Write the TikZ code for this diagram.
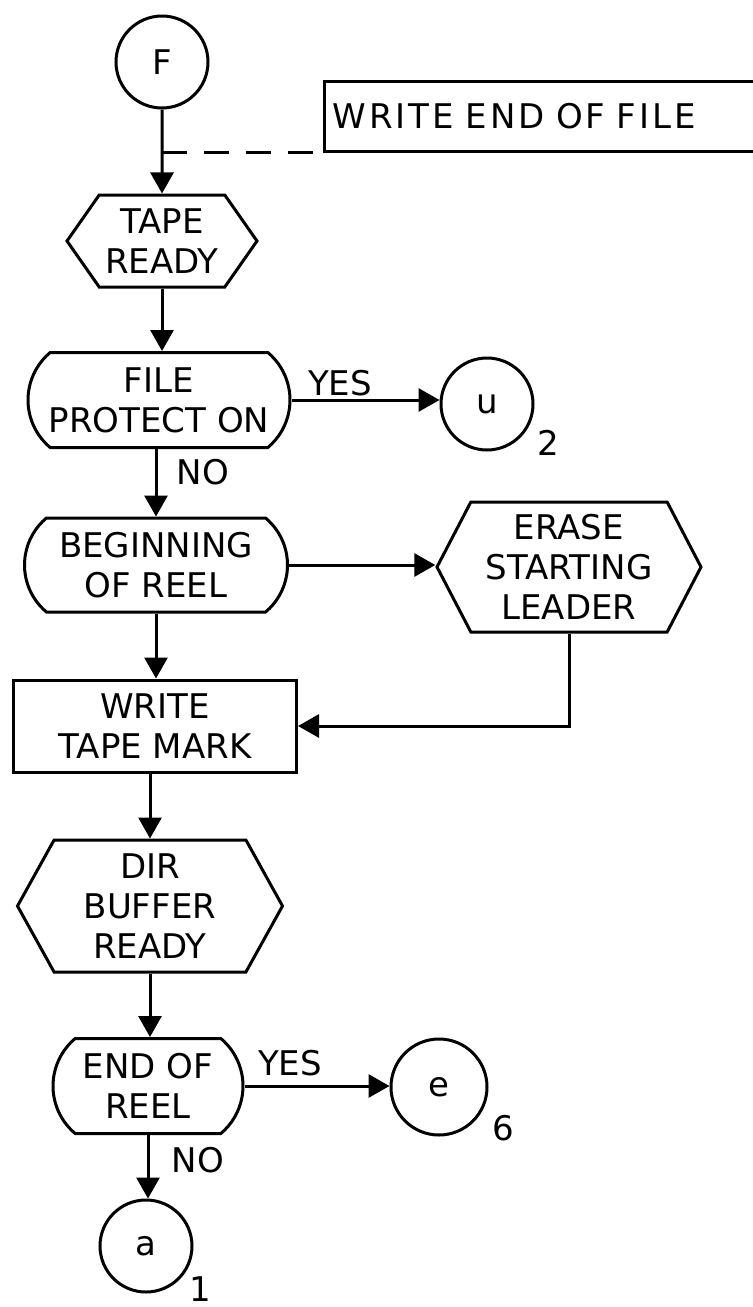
\documentclass[tikz,border=0pt]{standalone}
\usepackage{fontspec}
\setmainfont{DejaVu Sans}
\usetikzlibrary{arrows.meta, shapes.misc, shapes.symbols}

\begin{document}
\begin{tikzpicture}[x=0.5pt, y=-0.5pt, line width=1.5pt,
      font=\fontsize{17}{20}\selectfont,
      conn/.style={circle, draw, minimum size=46pt, inner sep=0pt},
      hexa/.style={signal, signal to=east and west, draw, align=center, inner sep=0pt},
      dec/.style={rounded rectangle, rounded rectangle arc length=100, draw,
                  align=center, inner sep=0pt},
      proc/.style={rectangle, draw, align=center, inner sep=0pt},
      arr/.style={-{Triangle[length=10.5pt, width=11.5pt]}}]
    \useasboundingbox (0,0) rectangle (752,1307);
    \node[conn] (f) at (162,62) {F};
    \node[proc, anchor=west, minimum height=35pt, text width=210pt, inner xsep=4pt,
          align=left] (eof) at (323,116) {\addfontfeatures{LetterSpace=9}WRITE END OF FILE};
    \node[hexa, minimum width=95pt, minimum height=46pt, signal pointer angle=110]
          (tr) at (162,241) {TAPE\\READY};
    \node[dec, minimum width=131pt, minimum height=47.5pt] (fp) at (159,400)
          {FILE\\PROTECT ON};
    \node[conn] (u) at (487,404) {u};
    \node (u2) at (548,443) {2};
    \node[dec, minimum width=131.5pt, minimum height=47pt] (beg) at (156,565)
          {BEGINNING\\OF REEL};
    \node[hexa, minimum width=132pt, minimum height=65pt, signal pointer angle=125]
          (er) at (569,567) {ERASE\\STARTING\\LEADER};
    \node[proc, minimum width=141.5pt, minimum height=46pt] (wtm) at (155,726)
          {WRITE\\TAPE MARK};
    \node[hexa, minimum width=132.5pt, minimum height=66pt, signal pointer angle=122]
          (dir) at (150,906) {DIR\\BUFFER\\READY};
    \node[dec, minimum width=95pt, minimum height=47.5pt] (eor) at (148,1086)
          {END OF\\REEL};
    \node[conn, minimum size=48pt] (e) at (439,1087) {e};
    \node (e6) at (503,1128) {6};
    \node[conn] (a) at (146,1246) {a};
    \node (a1) at (200,1289) {1};
    \node (yes1) at (340,383) {YES};
    \node (no1) at (203,472) {NO};
    \node (yes2) at (290,1063) {YES};
    \node (no2) at (198,1160) {NO};
    \draw[arr] (f) -- (tr);
    \draw[dash pattern=on 12.5pt off 8.5pt] (f.south |- eof.south west) -- (eof.south west);
    \draw[arr] (tr.south) -- (tr.south |- fp.north);
    \draw[arr] (fp.east) -- (fp.east -| u.west);
    \draw[arr] (beg.north |- fp.south) -- (beg.north);
    \draw[arr] (beg.east) -- (beg.east -| er.west);
    \draw[arr] (beg.south) -- (beg.south |- wtm.north);
    \draw[arr] (er.south) |- (wtm.east);
    \draw[arr] (dir.north |- wtm.south) -- (dir.north);
    \draw[arr] (dir.south) -- (dir.south |- eor.north);
    \draw[arr] (eor.east) -- (eor.east -| e.west);
    \draw[arr] (eor.south) -- (eor.south |- a.north);
  \end{tikzpicture}
\end{document}
